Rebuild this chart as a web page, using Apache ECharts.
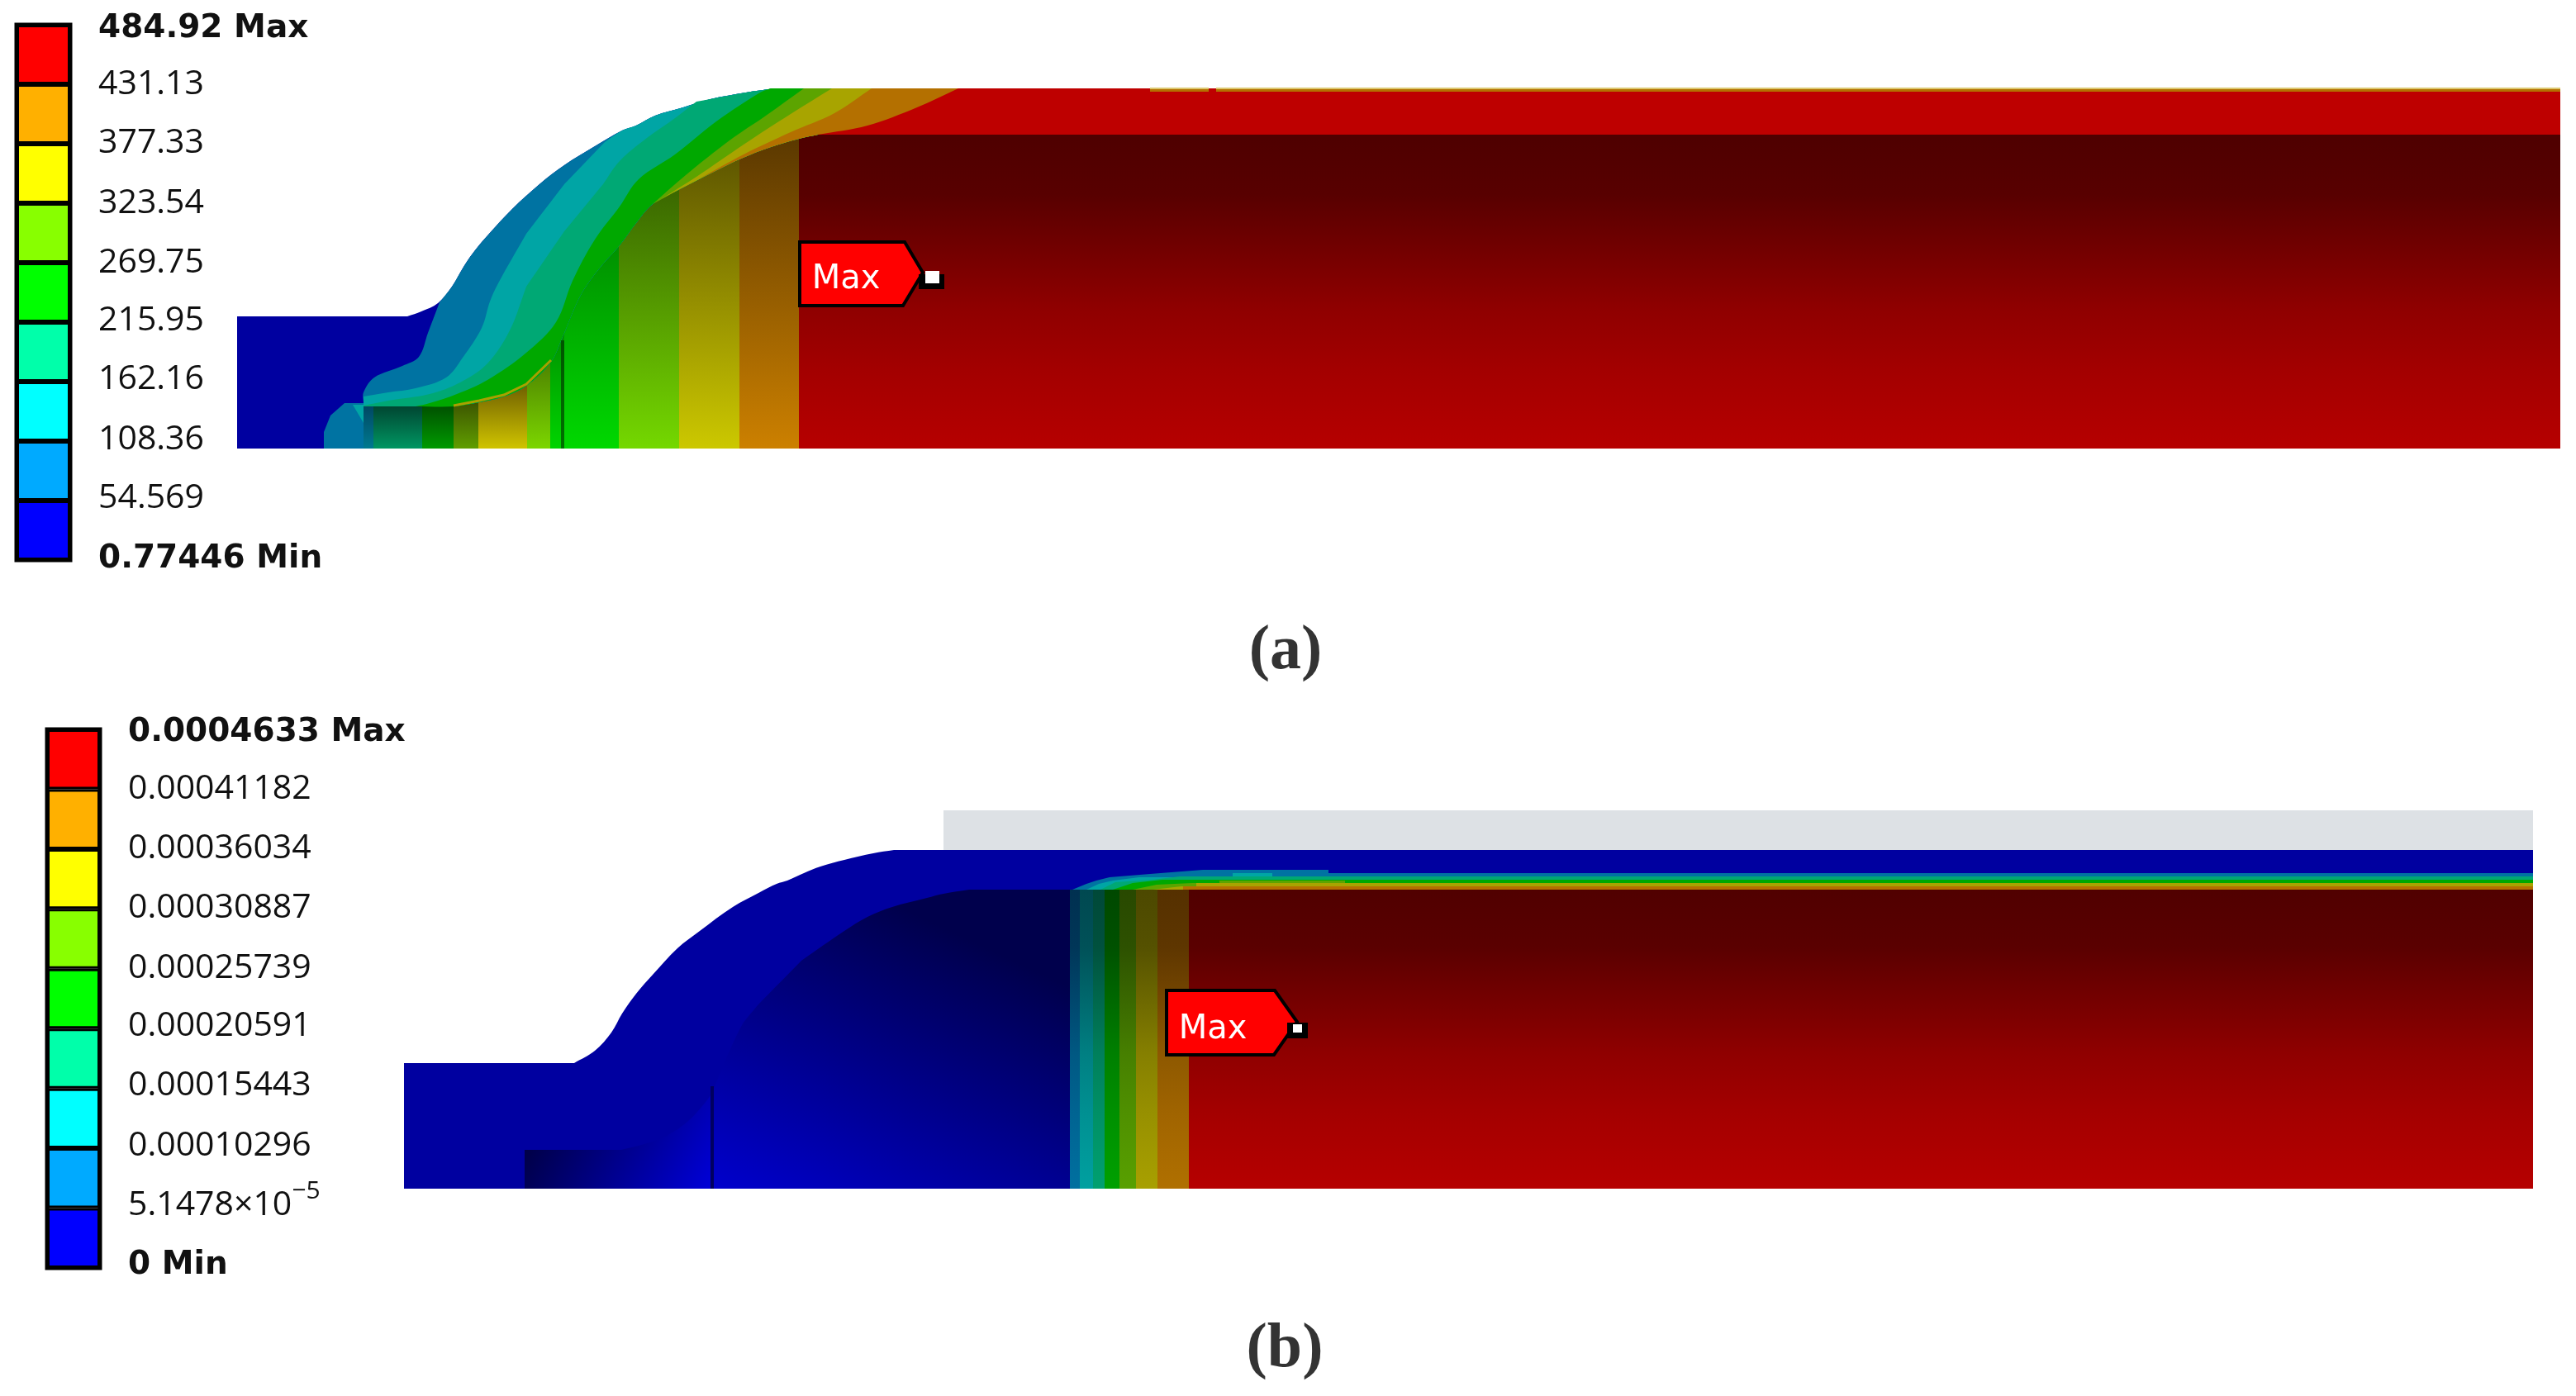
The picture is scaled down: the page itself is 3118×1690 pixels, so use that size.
<!DOCTYPE html>
<html>
<head>
<meta charset="utf-8">
<style>html,body{margin:0;padding:0;background:#fff}#c{width:3118px;height:1690px}</style>
<script src="https://cdn.jsdelivr.net/npm/echarts@6/dist/echarts.min.js"></script>
</head>
<body>
<div id="c"></div>
<script>
// ---------- legend data ----------
const bandColors = ['#0000ff','#00aaff','#00ffff','#00ffaa','#00ff00','#88ff00','#ffff00','#ffb000','#ff0000'];
const levelLabelsA = ['0.77446 Min','54.569','108.36','162.16','215.95','269.75','323.54','377.33','431.13','484.92 Max'];
const levelLabelsB = ['0 Min','5.1478×10^-5','0.00010296','0.00015443','0.00020591','0.00025739','0.00030887','0.00036034','0.00041182','0.0004633 Max'];
const labelSlotsA = [0.02,1.04,2.02,3.04,4.02,4.99,5.99,7.01,7.99,8.93];
const labelSlotsB = [0.04,1.04,2.04,3.04,4.04,5.00,6.01,7.01,8.00,8.95];
const captions = ['a','b'];

// ---------- flat shell colours ----------
const navy='#0000a0', sky='#0073a2', cyan='#00a5a5', mint='#00a874', green='#00a800', lime='#5ca400', yellow='#a8a400', orange='#b47000', red='#be0000';

// ---------- panel (a) geometry ----------
const profileA=[[287,383],[493,383],[510,377],[530,367],[547,347],[557,330],[563,320],[575,303],[592,283],[620,253],[653,223],[683,200],[720,177],[753,158],[770,152],[793,140],[827,130],[860,120],[903,112],[937,107],[3099,107]];
const bottomA=543, rightA=3099;
const blobA=[[392,543],[392,523],[400,503],[417,488],[440,488],[440,543]];
const tealWedgeA=[[427,490],[440,490],[440,512]];
const skyEdgeA=[[532,366],[518,403],[507,432],[487,443],[453,457],[440,475],[440,488]];
const cyanEdgeA=[[732,172],[683,223],[637,283],[603,343],[593,365],[583,397],[560,433],[540,457],[503,470],[470,475],[440,480]];
const mintEdgeA=[[843,123],[817,143],[783,167],[750,195],[730,223],[683,280],[637,347],[617,400],[590,440],[557,463],[520,477],[470,485],[440,491]];
const greenEdgeA=[[933,107],[920,112],[867,147],[817,187],[773,217],[750,250],[720,290],[693,340],[673,390],[637,427],[590,460],[553,477],[520,488],[503,492]];
const limeEdgeA=[[973,107],[927,140],[883,170],[830,212],[790,247]];
const yellowEdgeA=[[1007,107],[957,138],[900,175],[843,214],[800,241]];
const orangeEdgeA=[[1055,107],[1010,137],[957,160],[900,187],[847,216]];
const redEdgeA=[[1160,107],[1110,130],[1050,152],[990,163]];
const innerCurveA=[[440,492],[550,492],[580,487],[610,480],[637,467],[667,438],[680,410],[703,357],[727,323],[750,297],[770,270],[790,247],[823,229],[860,210],[897,192],[933,178],[967,168],[990,163],[3099,163]];
const innerRimA=[[549,491],[580,485],[610,478],[637,465],[667,436]];
const innerBandsA=[
  [440,452,'#004460','#007a90'],[452,511,'#00402e','#009662'],[511,549,'#004c00','#009a00'],
  [549,579,'#3a5000','#609e00'],[579,638,'#6a5a00','#d0c400'],[638,666,'#4c8000','#7cd600'],
  [666,683,'#009000','#00d400'],[683,749,'#009000','#00d800'],[749,822,'#3a6600','#74d800'],
  [822,895,'#5e5600','#ccc800'],[895,967,'#5a3800','#cc8000'],[967,3099,'#4e0000','#b60000']
];
const webColorsA=['#005400','#007000'];
const webLineA=[[679,412],[683,412],[683,543],[679,543]];
const topStripA=[[[1392,108],[1463,108],[1463,111],[1392,111]],[[1472,108],[3099,108],[3099,111],[1472,111]]];
const topGlowA=[[[1392,106],[1463,106],[1463,108],[1392,108]],[[1472,106],[3099,106],[3099,108],[1472,108]]];
const flagA=[[968,293],[1095,293],[1117,330],[1093,370],[968,370]];
const pinA=[[1112,332],[1143,332],[1143,350],[1112,350]];
const pinDotA=[[1120,328],[1137,328],[1137,343],[1120,343]];

// ---------- panel (b) geometry ----------
const dieB=[[1142,981],[3066,981],[3066,1029],[1142,1029]];
const profileB=[[489,1287],[695,1287],[720,1272],[740,1250],[753,1227],[770,1203],[790,1180],[820,1148],[847,1127],[887,1098],[920,1080],[940,1070],[953,1066],[973,1057],[993,1049],[1022,1041],[1057,1033],[1082,1029],[3066,1029]];
const bottomB=1439, rightB=3066;
const innerCurveB=[[635,1392],[752,1392],[780,1385],[803,1377],[833,1357],[860,1326],[867,1310],[897,1243],[917,1217],[970,1163],[1022,1127],[1050,1110],[1080,1098],[1122,1087],[1142,1082],[1173,1077],[3066,1077]];
const webLineB=[[860,1315],[864,1315],[864,1439],[860,1439]];
const innerBandsB=[
  [1295,1307,'#003050','#0070a0'],[1307,1323,'#004850','#00a0a0'],[1323,1337,'#004838','#00a070'],
  [1337,1355,'#004800','#00a000'],[1355,1375,'#284800','#58a000'],[1375,1401,'#4c4800','#a8a000'],
  [1401,1439,'#553000','#b07000'],[1439,3066,'#500000','#b60000']
];
const layerSkyB=[[1298,1077],[1315,1070],[1327,1066],[1343,1062],[1392,1058],[1456,1053],[1608,1053],[1608,1057],[3066,1057],[3066,1077]];
const layerCyanB=[[1315,1077],[1330,1070],[1347,1066],[1379,1062],[1492,1062],[1492,1057],[1540,1057],[1540,1061],[3066,1061],[3066,1077]];
const layerMintB=[[1332,1077],[1350,1068],[1395,1065],[1428,1061],[3066,1061],[3066,1077]];
const layerGreenB=[[1347,1077],[1371,1069],[1407,1065],[3066,1065],[3066,1077]];
const layerLimeB=[[1371,1077],[1400,1071],[1443,1069],[1476,1069],[1476,1066],[1628,1066],[1628,1069],[3066,1069],[3066,1077]];
const layerYellowB=[[1395,1077],[1430,1073],[1448,1073],[1448,1069],[3066,1069],[3066,1077]];
const layerOrangeB=[[1432,1077],[1432,1073],[3066,1073],[3066,1077]];
const flagB=[[1412,1199],[1543,1199],[1570,1237],[1542,1277],[1412,1277]];
const pinB=[[1558,1238],[1583,1238],[1583,1257],[1558,1257]];
const pinDotB=[[1565,1240],[1576,1240],[1576,1250],[1565,1250]];

const maxTexts=[[1024,339],[1468,1247]];
// Brightness of the shaded interior read down the red field: [depth, share of the top-to-bottom change].
const shadeStops=[[0,0],[0.2,0.1],[0.55,0.62],[0.75,0.82],[1,1]];

// ---------- helpers ----------
function vert(top,bot,shaded){
  if(shaded) return [0,0,0,1,shadeStops.map(s=>[s[0],echarts.color.lerp(s[1],[top,bot])])];
  return [0,0,0,1,[[0,top],[1,bot]]];
}
function curveY(curve,x){
  for(let i=1;i<curve.length;i++){
    if(x<=curve[i][0]){
      const a=curve[i-1],b=curve[i];
      return a[1]+(b[1]-a[1])*(x-a[0])/(b[0]-a[0]);
    }
  }
  return curve[curve.length-1][1];
}
// Vertical contour band under the inner curve; it reaches a little above the curve
// and the shells painted after it trim that overlap to one shared smooth outline.
function bandPoly(curve,x0,x1,bottom){
  const lift=4;
  const pts=[[x0,curveY(curve,x0)-lift]];
  curve.forEach(p=>{if(p[0]>x0&&p[0]<x1)pts.push([p[0],p[1]-lift]);});
  pts.push([x1,curveY(curve,x1)-lift],[x1,bottom],[x0,bottom]);
  return pts;
}
// Shell region: a contour edge from the outer profile down to the inner curve,
// along the inner curve to the right end, and back along the outer profile.
function shell(edge,profile,curve){
  const first=edge[0], last=edge[edge.length-1];
  const pts=[first,first].concat(edge.slice(1),[last]);
  curve.forEach(p=>{ if(p[0]>last[0] || (p[0]===last[0] && p[1]!==last[1])) pts.push(p); });
  pts.push(curve[curve.length-1]);
  const end=profile[profile.length-1];
  pts.push(end,end);
  for(let i=profile.length-2;i>=0;i--){ if(profile[i][0]>first[0]) pts.push(profile[i]); }
  return pts;
}
// Keep corners at the ends of long straight runs sharp when the outline is smoothed.
function sharpen(pts){
  const out=[];
  pts.forEach((p,i)=>{
    const n=pts[(i+1)%pts.length], q=pts[(i-1+pts.length)%pts.length];
    const long=Math.abs(n[0]-p[0])+Math.abs(n[1]-p[1])>100||Math.abs(q[0]-p[0])+Math.abs(q[1]-p[1])>100;
    out.push(p); if(long) out.push(p);
  });
  return out;
}

const items=[];
function add(pts,fill,extra){items.push(Object.assign({pts:pts,fill:fill},extra||{}));}
function addShell(edge,fill){add(sharpen(shell(edge,profileA,innerCurveA)),fill,{smooth:0.35});}

// panel (a)
innerBandsA.forEach(b=>add(bandPoly(innerCurveA,b[0],b[1],bottomA),null,{grad:vert(b[2],b[3],b[0]>=967)}));
const cornerA1=[440,492], cornerA2=[440,bottomA], cornerA3=[287,bottomA];
add(sharpen(profileA.concat([[rightA,163]],innerCurveA.slice(1,-1).reverse())).concat([cornerA1,cornerA1,cornerA2,cornerA2,cornerA3,cornerA3]),navy,{smooth:0.35});
add(blobA,sky);
add(tealWedgeA,cyan);
addShell(skyEdgeA,sky);
addShell(cyanEdgeA,cyan);
addShell(mintEdgeA,mint);
addShell(greenEdgeA,green);
addShell(limeEdgeA,lime);
addShell(yellowEdgeA,yellow);
addShell(orangeEdgeA,orange);
addShell(redEdgeA,red);
topGlowA.forEach(p=>add(p,'#dcc870'));
topStripA.forEach(p=>add(p,orange));
add(webLineA,null,{grad:vert(webColorsA[0],webColorsA[1])});
add(innerRimA,null,{line:'#a8a000',width:3});
add(flagA,'#ff0000',{stroke:'#000',width:4});
add(pinA,'#000');
add(pinDotA,'#fff');

// panel (b)
add(dieB,'#dde1e5');
add(bandPoly(innerCurveB,635,860,bottomB),null,{grad:[0.1,0,1,1,[[0,'#00003c'],[1,'#0000d8']]]});
add(bandPoly(innerCurveB,860,864,bottomB),'#0000c0');
add(bandPoly(innerCurveB,864,1295,bottomB),null,{grad:[0.4,0,0,1,[[0,'#00004c'],[1,'#0000cc']]]});
innerBandsB.forEach(b=>add(bandPoly(innerCurveB,b[0],b[1],bottomB),null,{grad:vert(b[2],b[3],b[0]>=1295)}));
const cornerB1=[635,1392], cornerB2=[635,bottomB], cornerB3=[489,bottomB];
add(sharpen(profileB.concat(innerCurveB.slice(1).reverse())).concat([cornerB1,cornerB1,cornerB2,cornerB2,cornerB3,cornerB3]),navy,{smooth:0.35});
add(webLineB,'#000060');
add(layerSkyB,sky);
add(layerCyanB,cyan);
add(layerMintB,mint);
add(layerGreenB,green);
add(layerLimeB,lime);
add(layerYellowB,yellow);
add(layerOrangeB,orange);
add(flagB,'#ff0000',{stroke:'#000',width:4});
add(pinB,'#000');
add(pinDotB,'#fff');

function renderField(params,api){
  const it=items[api.value(2)];
  const pts=it.pts.map(p=>api.coord(p));
  if(it.line){
    return {type:'polyline',shape:{points:pts},style:{fill:null,stroke:it.line,lineWidth:it.width}};
  }
  let fill=it.fill;
  if(it.grad){const g=it.grad;fill=new echarts.graphic.LinearGradient(g[0],g[1],g[2],g[3],g[4].map(s=>({offset:s[0],color:s[1]})));}
  return {type:'polygon',shape:{points:pts,smooth:it.smooth||0},style:{fill:fill,stroke:it.stroke||null,lineWidth:it.width||0,lineJoin:'miter'}};
}
function renderMax(params,api){
  const c=api.coord([api.value(0),api.value(1)]);
  return {type:'text',x:c[0],y:c[1],style:{text:'Max',fill:'#fff',font:'40px "DejaVu Sans"',textAlign:'center',textVerticalAlign:'middle'}};
}

const rich={
  r:{fontFamily:'"Open Sans"',fontSize:41,color:'#111'},
  b:{fontFamily:'"DejaVu Sans"',fontSize:39,fontWeight:'bold',color:'#111'},
  s:{fontFamily:'"Open Sans"',fontSize:30,color:'#111',verticalAlign:'top',padding:[0,0,34,0]}
};
function levelFormatter(labels){
  return function(v){
    const t=labels[Math.round(v)];
    if(/Max|Min/.test(t)) return '{b|'+t+'}';
    if(t.indexOf('^')>=0){const p=t.split('^');return '{r|'+p[0]+'}{s|'+p[1].replace('-','−')+'}';}
    return '{r|'+t+'}';
  };
}
function legendGrid(left,top,width,height){return {left:left,top:top,width:width,height:height,show:true,borderColor:'#000',borderWidth:5,backgroundColor:'transparent',containLabel:false};}
function legendY(idx,labels,slots){
  return {gridIndex:idx,type:'value',position:'right',min:0,max:9,interval:1,splitLine:{show:false},axisLine:{show:false},axisTick:{show:false},
    axisLabel:{show:true,align:'left',margin:34,customValues:slots,formatter:levelFormatter(labels),rich:rich,hideOverlap:false}};
}
function legendX(idx){return {gridIndex:idx,type:'category',data:['band'],show:false};}
function legendSeries(idx,key){
  return bandColors.map((c,i)=>({type:'bar',name:key+i,xAxisIndex:idx,yAxisIndex:idx,stack:key,barWidth:'100%',data:[1],
    silent:true,itemStyle:{color:c,borderColor:'#000',borderWidth:3}}));
}

const chart=echarts.init(document.getElementById('c'),null,{renderer:'canvas',width:3118,height:1690});
chart.setOption({
  animation:false,
  backgroundColor:'#ffffff',
  grid:[{left:0,top:0,width:3118,height:1690,containLabel:false},legendGrid(20,30,65,648),legendGrid(57,883,64,652)],
  xAxis:[{gridIndex:0,type:'value',min:0,max:3118,show:false},legendX(1),legendX(2)],
  yAxis:[{gridIndex:0,type:'value',min:0,max:1690,inverse:true,show:false},legendY(1,levelLabelsA,labelSlotsA),legendY(2,levelLabelsB,labelSlotsB)],
  series:[
    {type:'custom',xAxisIndex:0,yAxisIndex:0,silent:true,clip:false,renderItem:renderField,encode:{x:0,y:1},
      data:items.map((it,i)=>[it.pts[0][0],it.pts[0][1],i])},
    {type:'custom',xAxisIndex:0,yAxisIndex:0,silent:true,clip:false,z:5,renderItem:renderMax,encode:{x:0,y:1},
      data:maxTexts},
    {type:'scatter',xAxisIndex:0,yAxisIndex:0,silent:true,symbolSize:1,itemStyle:{color:'transparent'},
      data:[{value:[1556,789],name:captions[0]},{value:[1555,1634],name:captions[1]}],
      label:{show:true,position:'inside',color:'#000',formatter:p=>'{w|('+p.name+')}',
        rich:{w:{fontFamily:'"Liberation Serif"',fontSize:76,fontWeight:'bold',color:'#000'}}}}
  ].concat(legendSeries(1,'legendA'),legendSeries(2,'legendB'))
});
</script>
</body>
</html>
